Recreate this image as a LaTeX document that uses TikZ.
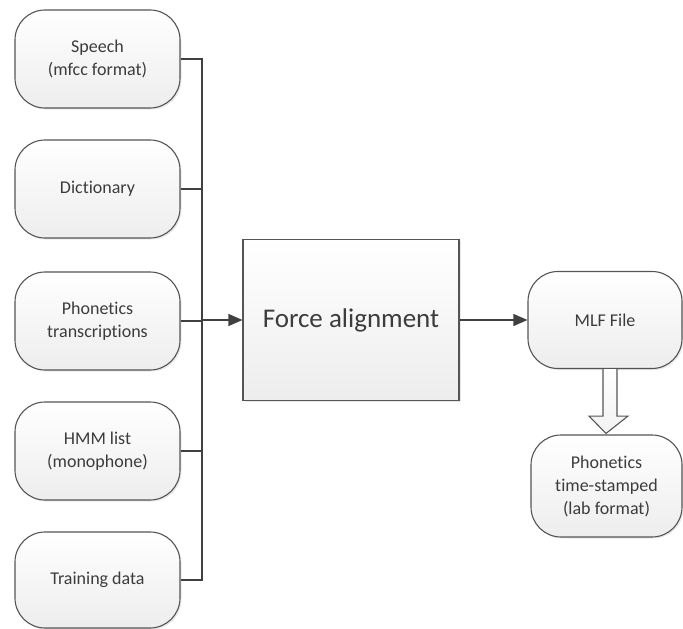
\documentclass[tikz,border=0pt]{standalone}
\usepackage{fontspec}
\setmainfont[Ligatures=NoCommon]{Carlito}
\usetikzlibrary{arrows.meta,shadows,calc}
\definecolor{edgegray}{HTML}{555555}
\definecolor{txtgray}{HTML}{3C3C3C}
\definecolor{linegray}{HTML}{404040}
\begin{document}
\begin{tikzpicture}[x=1pt,y=-1pt,
  boxbase/.style={draw=edgegray, line width=1.1pt, top color=white, bottom color=gray!14,
    drop shadow={shadow xshift=1.5pt, shadow yshift=-1.5pt, opacity=0.18},
    text=txtgray, align=center, inner sep=2pt},
  srcbox/.style={boxbase, rounded corners=30pt, minimum width=165pt, minimum height=98pt,
    font=\fontsize{18}{23}\selectfont},
  procbox/.style={boxbase, minimum width=216pt, minimum height=161pt,
    font=\fontsize{27}{32}\selectfont},
  conn/.style={draw=linegray, line width=1.1pt},
  arr/.style={conn, -{Triangle[length=14pt,width=12pt]}}]
\useasboundingbox (0,0) rectangle (683,629);

% input files
\node[srcbox] (speech) at (97.5,59) {Speech\\(mfcc format)};
\node[srcbox] (dict)   at (97.5,189) {Dictionary};
\node[srcbox] (phon)   at (97.5,321) {Phonetics\\transcriptions};
\node[srcbox] (hmm)    at (97.5,451) {HMM list\\(monophone)};
\node[srcbox, minimum height=96pt] (train) at (97.5,580) {Training data};

% process and outputs
\node[procbox] (force) at (351,320) {Force alignment};
\node[srcbox, minimum width=154pt, minimum height=97pt] (mlf) at (605,320) {MLF File};
\node[srcbox, minimum width=151pt, minimum height=102pt] (lab) at (606.5,486) {Phonetics\\time-stamped\\(lab format)};

% collecting bus
\coordinate (bus) at (202,320);
\draw[conn] (speech.east) -- (202,59) |- (train.east);
\draw[conn] (dict.east) -- (dict.east -| bus);
\draw[conn] (hmm.east) -- (hmm.east -| bus);
\draw[conn] (phon.east) -- (phon.east -| bus);
\draw[arr] (bus) -- (force.west);
\draw[arr] (force.east) -- (mlf.west);

% hollow block arrow
\draw[draw=edgegray, line width=1.1pt, top color=white, bottom color=gray!10]
  ($(mlf.south)+(-2,0)$) -- ($(mlf.south)+(-2,47)$) -- ($(mlf.south)+(-16,47)$)
  -- ($(lab.north)+(-0.5,-1)$)
  -- ($(mlf.south)+(23,47)$) -- ($(mlf.south)+(12,47)$) -- ($(mlf.south)+(12,0)$);
\end{tikzpicture}
\end{document}
